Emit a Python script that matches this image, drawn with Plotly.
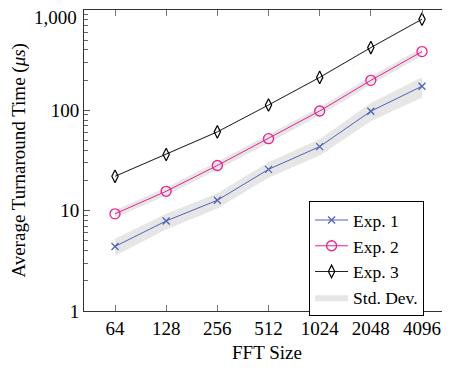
import plotly.graph_objects as go

fft_sizes = ["64", "128", "256", "512", "1024", "2048", "4096"]
exp1 = [4.4, 7.9, 12.7, 25.8, 43.5, 98, 174]
exp2 = [9.3, 15.6, 28.2, 52.2, 98.5, 199, 385]
exp3 = [22, 36.3, 61, 113, 213, 422, 810]
std1 = [0.85, 1.4, 2.2, 4.5, 8, 20, 40]
std2 = [0.8, 1.4, 2.6, 5, 9, 18, 36]
std3 = [0.4, 0.7, 1.1, 2, 4, 8, 15]

y_major = [1, 10, 100, 1000]
y_major_text = ["1", "10", "100", ""]
top_label = "1,000"
y_minor = [m * 10 ** d for d in range(3) for m in range(2, 10)]

FONT = "'Liberation Serif', 'Times New Roman', serif"
BAND = "#e6e6e6"
C1 = "#4f63b8"
C2 = "#e6238f"
C3 = "#222222"

fig = go.Figure()

for i, (vals, sd) in enumerate([(exp1, std1), (exp2, std2), (exp3, std3)]):
    upper = [v + s for v, s in zip(vals, sd)]
    lower = [v - s for v, s in zip(vals, sd)]
    fig.add_trace(go.Scatter(
        x=fft_sizes + fft_sizes[::-1],
        y=upper + lower[::-1],
        fill="toself", fillcolor=BAND, mode="lines",
        line=dict(width=0, color=BAND),
        name="Std. Dev.", showlegend=(i == 0), legendrank=4,
        hoverinfo="skip",
    ))

fig.add_trace(go.Scatter(
    x=fft_sizes, y=exp1, mode="lines+markers", name="Exp. 1", legendrank=1,
    line=dict(color=C1, width=1),
    marker=dict(symbol="x-thin", size=7, line=dict(color=C1, width=1.3), color=C1),
))
fig.add_trace(go.Scatter(
    x=fft_sizes, y=exp2, mode="lines+markers", name="Exp. 2", legendrank=2,
    line=dict(color=C2, width=1),
    marker=dict(symbol="circle-open", size=10, line=dict(color=C2, width=1.3), color=C2),
))
fig.add_trace(go.Scatter(
    x=fft_sizes, y=exp3, mode="lines+markers", name="Exp. 3", legendrank=3,
    line=dict(color=C3, width=1),
    marker=dict(symbol="diamond-tall-open", size=9, line=dict(color="#000000", width=1.2), color="#000000"),
))
# invisible helper trace to anchor the right-hand tick axis
fig.add_trace(go.Scatter(
    x=fft_sizes, y=exp3, yaxis="y2", mode="lines", opacity=0,
    showlegend=False, hoverinfo="skip",
))

tickfont = dict(family=FONT, size=19, color="#000000")

# page body adds an 8px offset; figure is sized so the plot lands where the reference has it
fig.update_layout(
    width=442, height=360,
    margin=dict(l=76, r=0, t=2, b=57),
    paper_bgcolor="white", plot_bgcolor="white",
    font=dict(family=FONT, size=19, color="#000000"),
    showlegend=True,
    legend=dict(
        x=0.615, y=0.365, xanchor="left", yanchor="top",
        bordercolor="#000000", borderwidth=1, bgcolor="white",
        font=dict(family=FONT, size=17.5, color="#000000"),
        tracegroupgap=0, itemwidth=33,
        entrywidth=92, entrywidthmode="pixels",
    ),
    xaxis=dict(
        type="category", range=[-0.606, 6.547], automargin=False,
        tickvals=fft_sizes, ticktext=fft_sizes,
        showgrid=False, zeroline=False,
        showline=True, linecolor="#333333", linewidth=1, mirror="ticks",
        ticks="inside", ticklen=6, tickcolor="#777777", tickwidth=1,
        tickfont=tickfont,
    ),
    yaxis=dict(
        type="log", range=[0, 3], automargin=False,
        tickvals=y_major, ticktext=y_major_text,
        showgrid=False, zeroline=False,
        showline=True, linecolor="#333333", linewidth=1,
        ticks="inside", ticklen=6, tickcolor="#555555", tickwidth=1,
        minor=dict(tickvals=y_minor, ticks="inside", ticklen=4, tickcolor="#666666", tickwidth=1, showgrid=False),
        tickfont=tickfont,
    ),
    yaxis2=dict(
        type="log", range=[0, 3], overlaying="y", side="right", anchor="x",
        tickvals=y_major, showticklabels=False, automargin=False,
        showgrid=False, zeroline=False, showline=False,
        ticks="inside", ticklen=6, tickcolor="#555555", tickwidth=1,
        minor=dict(tickvals=y_minor, ticks="inside", ticklen=4, tickcolor="#666666", tickwidth=1, showgrid=False),
    ),
    annotations=[
        dict(text=top_label, xref="paper", yref="paper", x=0, y=1,
             xanchor="right", yanchor="middle", xshift=-5, yshift=-7, showarrow=False,
             font=dict(family=FONT, size=19, color="#000000")),
        dict(text="FFT Size", xref="paper", yref="paper", x=0.5, y=-0.139,
             xanchor="center", yanchor="middle", showarrow=False,
             font=dict(family=FONT, size=19, color="#000000")),
        dict(text="Average Turnaround Time (<i>μs</i>)", xref="paper", yref="paper",
             x=-0.180, y=0.5, xanchor="center", yanchor="middle", textangle=-90,
             showarrow=False, font=dict(family=FONT, size=19, color="#000000")),
    ],
)

fig.write_html("out.html")
